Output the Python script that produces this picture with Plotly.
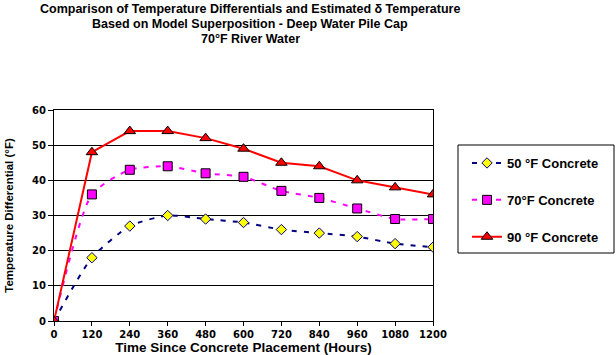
import plotly.graph_objects as go

hours = [0, 120, 240, 360, 480, 600, 720, 840, 960, 1080, 1200]
concrete_50 = [0, 18, 27, 30, 29, 28, 26, 25, 24, 22, 21]
concrete_70 = [0, 36, 43, 44, 42, 41, 37, 35, 32, 29, 29]
concrete_90 = [0, 48, 54, 54, 52, 49, 45, 44, 40, 38, 36]
names = ["50 °F Concrete", "70°F Concrete", "90 °F Concrete"]
title_lines = [
    "Comparison of Temperature Differentials and Estimated δ Temperature",
    "Based on Model Superposition - Deep Water Pile Cap",
    "70°F River Water",
]

FONT = "Liberation Sans, Arial, sans-serif"
TICKFONT = "DejaVu Sans, Verdana, sans-serif"

fig = go.Figure()
fig.add_trace(go.Scatter(
    x=hours, y=concrete_50, name=names[0], mode="lines+markers", legendgroup="a",
    line=dict(color="#000080", width=2, dash="5px,7px", shape="spline", smoothing=0.6),
    marker=dict(symbol="diamond", size=8, color="#FFFF00", line=dict(color="#000080", width=1)),
))
fig.add_trace(go.Scatter(
    x=hours, y=concrete_70, name=names[1], mode="lines+markers", legendgroup="b",
    line=dict(color="#FF00FF", width=2, dash="5px,7px", shape="spline", smoothing=0.6),
    marker=dict(symbol="square", size=9, color="#FF00FF", line=dict(color="#000000", width=1)),
))
fig.add_trace(go.Scatter(
    x=hours, y=concrete_90, name=names[2], mode="lines+markers", legendgroup="c",
    line=dict(color="#FF0000", width=2),
    marker=dict(symbol="triangle-up", size=10, color="#FF0000", line=dict(color="#000000", width=1)),
))

# title lines as annotations (paper coords relative to plot area 54..433 x 110..321)
title_y_px = [9, 24, 39]
annotations = []
for txt, ypx in zip(title_lines, title_y_px):
    annotations.append(dict(
        text=txt, xref="paper", yref="paper", x=(250 - 54) / 379, y=(321 - ypx) / 211,
        xanchor="center", yanchor="middle", showarrow=False,
        font=dict(family=FONT, size=12.5, weight="bold", color="black"),
    ))

fig.update_layout(
    width=616, height=355,
    margin=dict(l=54, r=183, t=110, b=34, autoexpand=False),
    paper_bgcolor="white", plot_bgcolor="white",
    font=dict(family=FONT, color="black", size=11, weight="bold"),
    annotations=annotations,
    shapes=[dict(type="rect", xref="paper", yref="paper",
                 x0=(458 - 54) / 379, x1=(614 - 54) / 379,
                 y0=(321 - 253) / 211, y1=(321 - 145) / 211,
                 line=dict(color="black", width=1), fillcolor="rgba(0,0,0,0)", layer="above")],
    xaxis=dict(
        range=[0, 1200], tickvals=hours, ticks="outside", ticklen=4, tickcolor="black",
        showline=True, linecolor="black", linewidth=1, mirror=True, showgrid=False,
        zeroline=False, tickfont=dict(family=TICKFONT, size=10), automargin=False,
        title=dict(text="Time Since Concrete Placement (Hours)", font=dict(size=13.5), standoff=3),
    ),
    yaxis=dict(
        range=[0, 60], dtick=10, ticks="outside", ticklen=5, tickcolor="black",
        showline=True, linecolor="black", linewidth=1, mirror=True,
        showgrid=True, gridcolor="black", gridwidth=1, zeroline=False,
        tickfont=dict(family=TICKFONT, size=10), automargin=False,
        title=dict(text="Temperature Differential (°F)", font=dict(size=11.5), standoff=16),
    ),
    legend=dict(
        x=(467 - 54) / 379, y=(321 - 148) / 211, xanchor="left", yanchor="top",
        borderwidth=0, bgcolor="rgba(0,0,0,0)",
        tracegroupgap=17, font=dict(size=13),
    ),
    showlegend=True,
)

fig.write_html("out.html", config={"displayModeBar": False},
               post_script="document.body.style.margin='0';document.body.style.padding='0';")
